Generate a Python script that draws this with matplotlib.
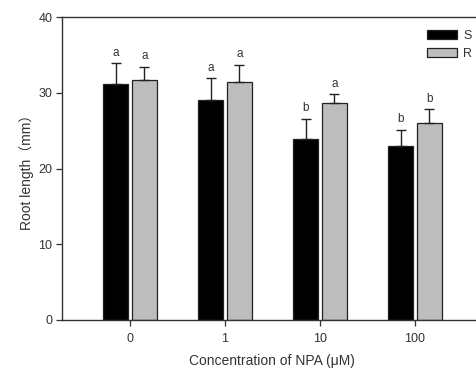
import numpy as np
import matplotlib
matplotlib.use("Agg")
import matplotlib.pyplot as plt

# ------------------------------------------------------------------
# data
# ------------------------------------------------------------------
conc_labels = ["0", "1", "10", "100"]
s_mean = [31.1, 29.0, 23.9, 23.0]
s_err = [2.8, 2.9, 2.7, 2.1]
r_mean = [31.7, 31.4, 28.6, 26.0]
r_err = [1.7, 2.3, 1.2, 1.8]
s_letters = ["a", "a", "b", "b"]
r_letters = ["a", "a", "a", "b"]

plt.rcParams["font.family"] = ["Liberation Sans", "Noto Sans CJK SC", "DejaVu Sans"]
txt_col = "#333333"

fig = plt.figure(figsize=(4.76, 3.79), dpi=100)
ax = fig.add_axes([62 / 476, 1 - 320 / 379, 420 / 476, 303 / 379])

x = np.arange(len(conc_labels))
w = 0.26
off = 0.152

bars_s = ax.bar(x - off, s_mean, w, color="black", edgecolor="#222222", linewidth=0.9, label="S")
bars_r = ax.bar(x + off, r_mean, w, color="#bdbdbd", edgecolor="#222222", linewidth=0.9, label="R")

# upward-only error bars
ax.errorbar(x - off, s_mean, yerr=[np.zeros(len(s_err)), s_err], fmt="none",
            ecolor="#222222", elinewidth=1.0, capsize=3.5, capthick=1.0)
ax.errorbar(x + off, r_mean, yerr=[np.zeros(len(r_err)), r_err], fmt="none",
            ecolor="#222222", elinewidth=1.0, capsize=3.5, capthick=1.0)

# significance letters
for xi, m, e, t in zip(x - off, s_mean, s_err, s_letters):
    ax.text(xi, m + e + 0.6, t, ha="center", va="bottom", fontsize=8.5, color=txt_col)
for xi, m, e, t in zip(x + off, r_mean, r_err, r_letters):
    ax.text(xi, m + e + 0.6, t, ha="center", va="bottom", fontsize=8.5, color=txt_col)

ax.set_ylim(0, 40)
ax.set_xlim(-0.716, 3.705)
ax.set_yticks([0, 10, 20, 30, 40])
ax.set_xticks(x)
ax.set_xticklabels(conc_labels)

for side in ["left", "bottom", "top"]:
    ax.spines[side].set_color("#333333")
    ax.spines[side].set_linewidth(1.0)
ax.spines["right"].set_visible(False)

ax.tick_params(axis="both", direction="out", length=4, width=0.9,
               colors="#333333", labelsize=9, labelcolor=txt_col)
ax.tick_params(axis="y", pad=3)
ax.tick_params(axis="x", pad=5)

ax.set_ylabel("Root length（mm）", fontsize=10, color=txt_col, labelpad=3)
ax.set_xlabel("Concentration of NPA (μM)", fontsize=10, color=txt_col, labelpad=7)

ax.legend(handles=[bars_s, bars_r], loc="upper left",
          bbox_to_anchor=(427 / 476, 1 - 30 / 379), bbox_transform=fig.transFigure,
          frameon=False, fontsize=9, handlelength=2.4, handleheight=0.75,
          handletextpad=0.5, labelspacing=0.45, borderpad=0, borderaxespad=0,
          labelcolor=txt_col)

fig.savefig("out.png", dpi=100)
